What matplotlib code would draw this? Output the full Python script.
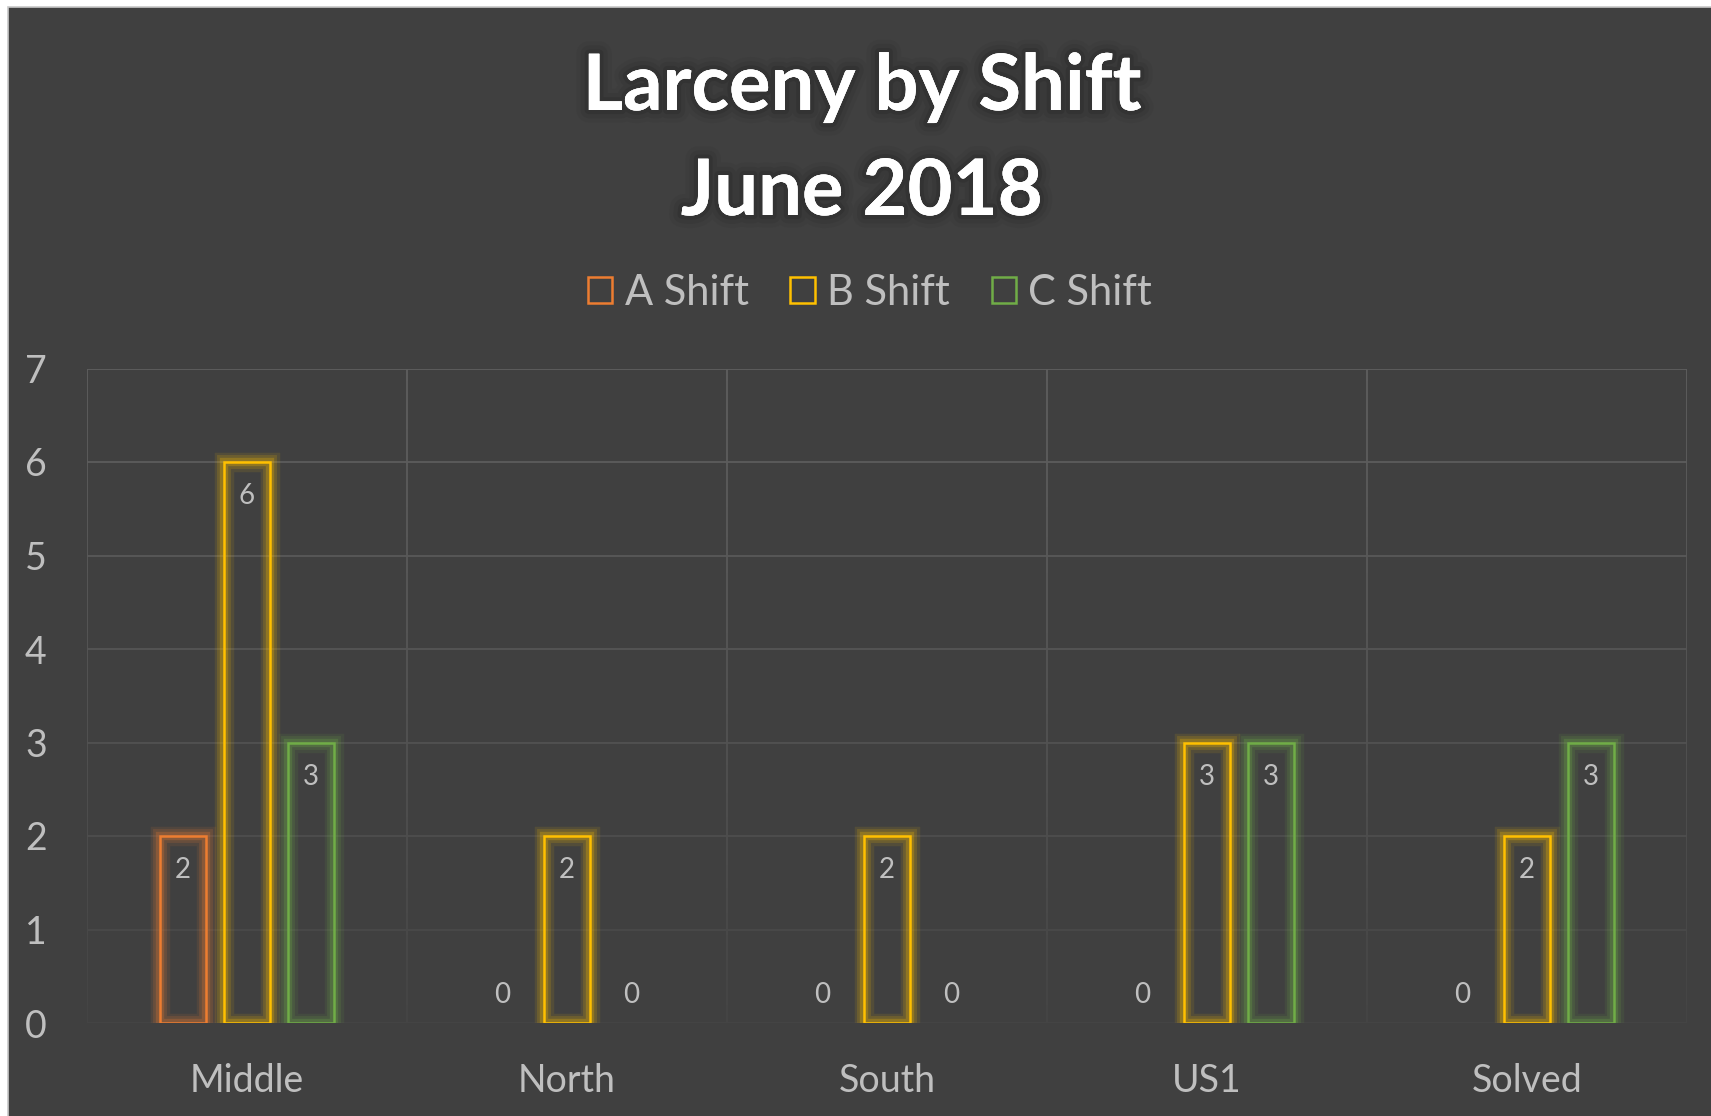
import numpy as np
import matplotlib
matplotlib.use("Agg")
import matplotlib.pyplot as plt
import matplotlib.patheffects as pe
from matplotlib.patches import Rectangle, Patch
from matplotlib.colors import LinearSegmentedColormap

categories = ["Middle", "North", "South", "US1", "Solved"]
series_names = ["A Shift", "B Shift", "C Shift"]
a_shift = [2, 0, 0, 0, 0]
b_shift = [6, 2, 2, 3, 2]
c_shift = [3, 0, 0, 3, 3]
y_ticks = [0, 1, 2, 3, 4, 5, 6, 7]
title_lines = ["Larceny by Shift", "June 2018"]

colors = ["#ED7D31", "#FFC000", "#70AD47"]
BG = "#404040"
TXT = "#BFBFBF"
FONT = "Lato"

W, H = 1711, 1116
fig = plt.figure(figsize=(W / 100, H / 100), dpi=100, facecolor="white")
fig.patches.append(Rectangle((8 / W, -0.05), 1, 1.05 - 7 / H, transform=fig.transFigure,
                             facecolor=BG, edgecolor="#C8C8C8", linewidth=1.2, zorder=-5))

ax = fig.add_axes([87 / W, 1 - 1023 / H, (1687 - 87) / W, (1023 - 368.5) / H])
ax.set_facecolor("none")

# gridlines
for yv in y_ticks:
    ax.axhline(yv, color="#5E5E5E", lw=1.3, zorder=0.5)
for xv in np.arange(-0.5, len(categories), 1.0):
    ax.axvline(xv, color="#5E5E5E", lw=1.3, zorder=0.5)
# fade gridlines toward the bottom
grad = np.linspace(0, 1, 256).reshape(-1, 1)
cmap = LinearSegmentedColormap.from_list("fade", [(0.251, 0.251, 0.251, 0.0), (0.251, 0.251, 0.251, 0.85)])
ax.imshow(grad ** 1.3, extent=(-0.52, len(categories) - 0.48, -0.02, 7.05), aspect="auto",
          cmap=cmap, vmin=0, vmax=1, origin="upper", zorder=0.8, interpolation="bilinear")
ax.set_xlim(-0.5, len(categories) - 0.5)
ax.set_ylim(0, 7)

for s in ax.spines.values():
    s.set_visible(False)

x = np.arange(len(categories))
width = 0.143
offset = 0.201
all_series = [a_shift, b_shift, c_shift]
for i, (vals, col) in enumerate(zip(all_series, colors)):
    vals = np.array(vals, dtype=float)
    heights = np.where(vals > 0, vals, np.nan)
    xs = x + (i - 1) * offset
    bars = ax.bar(xs, heights, width=width, facecolor="none", edgecolor=col, linewidth=1.8, zorder=3)
    for b in bars:
        b.set_path_effects([
            pe.Stroke(linewidth=14, foreground=col, alpha=0.10),
            pe.Stroke(linewidth=10, foreground=col, alpha=0.15),
            pe.Stroke(linewidth=6, foreground=col, alpha=0.25),
            pe.Normal(),
        ])
    for xi, v in zip(xs, vals):
        dy = -24.5 if v > 0 else 20
        ax.annotate(f"{int(v)}", (xi, v), xytext=(0, dy), textcoords="offset points",
                    ha="center", va="center", color=TXT, fontsize=20, family=FONT, zorder=4)

ax.set_xticks(x)
ax.set_xticklabels(categories)
ax.set_yticks(y_ticks)
ax.set_yticklabels([str(t) for t in y_ticks])
ax.tick_params(axis="both", length=0, colors=TXT, labelsize=27)
ax.tick_params(axis="x", pad=28.5)
ax.tick_params(axis="y", pad=29)
for lab in ax.get_xticklabels() + ax.get_yticklabels():
    lab.set_family(FONT)

handles = [Patch(facecolor="none", edgecolor=c, linewidth=1.8, label=n) for c, n in zip(colors, series_names)]
leg = fig.legend(handles=handles, loc="center", bbox_to_anchor=(870 / W, 1 - 293 / H), ncol=3,
                 frameon=False, prop={"family": FONT, "size": 30}, labelcolor=TXT,
                 handlelength=0.58, handleheight=0.58, handletextpad=0.3, columnspacing=1.0)

glow = [
    pe.withStroke(linewidth=18, foreground="#2E2E2E", alpha=0.15),
    pe.withStroke(linewidth=12, foreground="#2A2A2A", alpha=0.2),
    pe.withStroke(linewidth=6, foreground="#262626", alpha=0.3),
    pe.Normal(),
]
for line, base in zip(title_lines, [110, 215]):
    t = fig.text(862 / W, 1 - base / H, line, ha="center", va="baseline", color="white",
                 fontsize=56, fontweight="bold", family=FONT)
    t.set_path_effects(glow)

fig.savefig("out.png", dpi=100, facecolor="white")
